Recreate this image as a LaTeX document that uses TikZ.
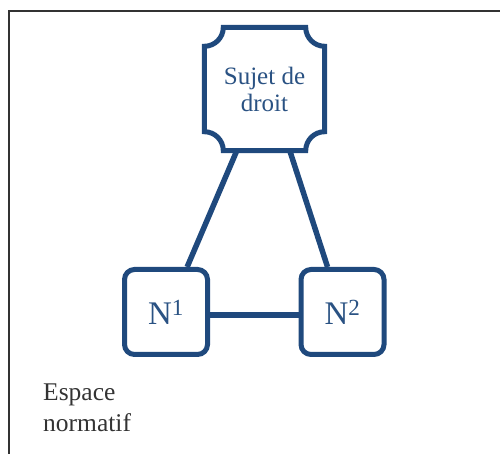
\documentclass[tikz,border=0pt]{standalone}
\usepackage{fontspec}
\setmainfont{Liberation Serif}
\usetikzlibrary{calc}
\definecolor{nblue}{HTML}{1F497D}
\definecolor{tblue}{HTML}{2A5283}
\definecolor{frame}{HTML}{333333}
\tikzset{
  link/.style={draw=nblue, line width=5.5pt},
  nbox/.style={draw=nblue, line width=5pt, rounded corners=10pt, fill=white,
    minimum width=83pt, minimum height=85pt, inner sep=0pt,
    text=tblue, font=\fontsize{33}{36}\selectfont},
  plaque/.style={minimum width=120pt, minimum height=123pt, inner sep=0pt,
    align=center, text=tblue, font=\fontsize{25}{27}\selectfont},
  label/.style={align=left, inner sep=0pt, text=frame, font=\fontsize{25.5}{31}\selectfont}
}
\begin{document}
\begin{tikzpicture}[x=1pt,y=1pt]
\useasboundingbox (0,0) rectangle (500,454);
\draw[frame, line width=2.2pt] (9,0) -- (9,443) -- (500,443);
\def\r{19}
\node[plaque] (s) at (264.5,365) {Sujet de\\droit};
\draw[nblue, line width=5pt, fill=white]
  ($(s.north west)+(\r,0)$) -- ($(s.north east)+(-\r,0)$)
  arc[start angle=180, end angle=270, radius=\r]
  -- ($(s.south east)+(0,\r)$)
  arc[start angle=90, end angle=180, radius=\r]
  -- ($(s.south west)+(\r,0)$)
  arc[start angle=0, end angle=90, radius=\r]
  -- ($(s.north west)+(0,-\r)$)
  arc[start angle=270, end angle=360, radius=\r] -- cycle;
\node[plaque] at (s) {Sujet de\\droit};
\node[nbox] (n1) at (166,142) {N\textsuperscript{1}};
\node[nbox] (n2) at (342.5,142) {N\textsuperscript{2}};
\draw[link] ($(s.south west)!0.27!(s.south east)$) -- ($(n1.north west)!0.74!(n1.north east)$);
\draw[link] ($(s.south west)!0.71!(s.south east)$) -- ($(n2.north west)!0.33!(n2.north east)$);
\draw[link] ([yshift=-3pt]n1.east) -- ([yshift=-3pt]n2.west);
\node[label, anchor=west] (e) at (43,46.5) {Espace\\normatif};
\end{tikzpicture}
\end{document}
